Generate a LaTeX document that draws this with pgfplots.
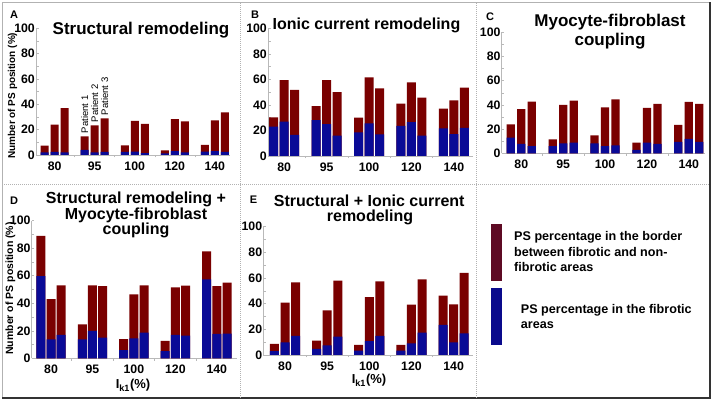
\documentclass[border=0pt]{standalone}
\usepackage{pgfplots}
\pgfplotsset{compat=1.18}
\usepackage{pgfplotstable}
\usepackage{fontspec}
\setmainfont{Liberation Sans}
\definecolor{dred}{HTML}{7A0000}
\definecolor{dblue}{HTML}{0A0A96}
\definecolor{lred}{HTML}{5E0A24}
\definecolor{lblue}{HTML}{0A0A8C}

% x t1 b1 t2 b2 t3 b3  (t = total height, b = fibrotic part)
\pgfplotstableread{
x t1 b1 t2 b2 t3 b3
0 7.4 2.0 24.0 2.4 37.0 2.0
1 14.7 4.0 23.4 2.0 29.0 2.4
2 7.6 2.4 27.0 2.6 24.5 1.5
3 3.7 1.3 28.4 3.0 26.6 2.0
4 8.0 2.6 27.4 3.0 33.7 2.4
}\dataA
\pgfplotstableread{
x t1 b1 t2 b2 t3 b3
0 30.3 23.0 59.5 27.0 51.7 16.5
1 39.0 28.0 59.5 25.0 50.0 16.0
2 30.0 18.5 61.6 25.6 53.0 17.0
3 41.0 23.5 57.7 26.6 45.7 16.0
4 37.0 21.7 43.6 17.2 53.5 22.0
}\dataB
\pgfplotstableread{
x t1 b1 t2 b2 t3 b3
0 24.0 13.0 36.6 7.7 42.7 6.0
1 11.6 6.0 40.0 8.3 43.5 8.8
2 14.9 8.3 38.0 6.0 44.6 6.6
3 8.8 2.8 37.5 8.8 40.8 7.7
4 23.4 9.4 42.4 12.0 40.8 9.4
}\dataC
\pgfplotstableread{
x t1 b1 t2 b2 t3 b3
0 88.9 59.8 43.0 13.8 53.0 17.0
1 24.7 13.8 53.0 20.0 52.5 15.0
2 14.0 6.0 46.5 14.5 53.0 18.6
3 12.6 5.3 51.6 17.0 52.8 16.5
4 77.7 57.4 52.5 17.7 55.0 18.0
}\dataD
\pgfplotstableread{
x t1 b1 t2 b2 t3 b3
0 8.6 3.1 40.8 9.9 56.6 15.0
1 11.2 4.7 34.8 7.5 58.0 14.3
2 7.8 3.4 45.2 10.9 57.4 15.0
3 7.8 3.4 39.2 9.0 59.0 17.4
4 46.2 23.4 39.5 9.9 64.0 16.9
}\dataE

\pgfplotsset{
  panel/.style={
    scale only axis, anchor=south west, clip=false,
    ymin=0, ymax=100, ytick={0,20,...,100}, minor ytick={10,30,...,90},
    xtick={0,...,4}, xticklabels={80,95,100,120,140},
    minor xtick={0.5,1.5,2.5,3.5},
    axis x line*=bottom, axis y line*=left,
    axis line style={draw=gray!55, line width=0.7pt, -},
    tick style={draw=gray!55, line width=0.5pt},
    major tick length=2.5pt, minor tick length=2.5pt,
    every major x tick/.style={draw=none},
    ybar,
    tick label style={font=\fontsize{12.3}{12.3}\selectfont\bfseries},
    yticklabel style={inner xsep=1pt},
    xticklabel style={inner ysep=2pt, yshift=-2pt},
    /pgf/number format/assume math mode=true,
  },
  pp/.style n args={2}{draw=none, fill=#1, bar shift=#2, forget plot},
}
\newcommand{\panelplots}[2]{%
  \addplot[pp={dred}{-#2}] table[x=x,y=t1]{#1};
  \addplot[pp={dblue}{-#2}] table[x=x,y=b1]{#1};
  \addplot[pp={dred}{0pt}] table[x=x,y=t2]{#1};
  \addplot[pp={dblue}{0pt}] table[x=x,y=b2]{#1};
  \addplot[pp={dred}{#2}] table[x=x,y=t3]{#1};
  \addplot[pp={dblue}{#2}] table[x=x,y=b3]{#1};
}

\begin{document}
\begin{tikzpicture}
\useasboundingbox (0pt,0pt) rectangle (713pt,402pt);
% frame and dividers
\draw[gray!60, line width=0.8pt] (2pt,4pt) rectangle (710pt,400pt);
\draw[gray!40!black, line width=1.2pt] (2pt,4pt)--(710pt,4pt)--(710pt,400pt);
\draw[gray!60, line width=0.5pt, dash pattern=on 1pt off 1pt] (240pt,4pt)--(240pt,400pt);
\draw[gray!60, line width=0.5pt, dash pattern=on 1pt off 1pt] (476pt,4pt)--(476pt,400pt);
\draw[gray!60, line width=0.5pt, dash pattern=on 1pt off 1pt] (2pt,218pt)--(710pt,218pt);

% Panel A
\begin{axis}[panel, at={(36pt,247pt)}, width=194pt, height=126.7pt,
  xmin=-0.4675, xmax=4.38, bar width=8pt]
\panelplots{\dataA}{10pt}
\node[rotate=90, anchor=west, inner sep=0pt, font=\fontsize{9.5}{9.5}\selectfont] at ([xshift=-10pt,yshift=3pt]axis cs:1,14.7) {Patient 1};
\node[rotate=90, anchor=west, inner sep=0pt, font=\fontsize{9.5}{9.5}\selectfont] at ([xshift=0pt,yshift=3pt]axis cs:1,23.4) {Patient 2};
\node[rotate=90, anchor=west, inner sep=0pt, font=\fontsize{9.5}{9.5}\selectfont] at ([xshift=10pt,yshift=3pt]axis cs:1,29.0) {Patient 3};
\end{axis}

% Panel B
\begin{axis}[panel, at={(268pt,246pt)}, width=205pt, height=127.7pt,
  xmin=-0.383, xmax=4.45, bar width=9pt]
\panelplots{\dataB}{10.5pt}
\end{axis}

% Panel C
\begin{axis}[panel, at={(501.7pt,248.7pt)}, width=203.3pt, height=121pt,
  xmin=-0.468, xmax=4.387, bar width=8.3pt]
\panelplots{\dataC}{10.5pt}
\end{axis}

% Panel D
\begin{axis}[panel, at={(31.7pt,43.7pt)}, width=205pt, height=137.6pt,
  xmin=-0.466, xmax=4.48, bar width=9pt]
\panelplots{\dataD}{10.2pt}
\end{axis}

% Panel E
\begin{axis}[panel, at={(263.3pt,47pt)}, width=209.7pt, height=128.3pt,
  xmin=-0.515, xmax=4.46, bar width=9pt]
\panelplots{\dataE}{10.6pt}
\end{axis}

% panel letters
\begin{scope}[every node/.style={anchor=base, inner sep=0pt, font=\fontsize{11}{11}\selectfont\bfseries}]
\node at (14pt,383.7pt) {A};
\node at (255pt,383.7pt) {B};
\node at (490pt,381.3pt) {C};
\node at (14pt,197.7pt) {D};
\node at (253.5pt,198pt) {E};
\end{scope}

% titles
\node[anchor=base, inner sep=0pt, font=\fontsize{17}{17}\selectfont\bfseries] at (141pt,367.7pt) {Structural remodeling};
\node[anchor=base, inner sep=0pt, font=\fontsize{16}{16}\selectfont\bfseries] at (366.5pt,372pt) {Ionic current remodeling};
\node[anchor=base, inner sep=0pt, font=\fontsize{17}{17}\selectfont\bfseries] at (610pt,375.3pt) {Myocyte-fibroblast};
\node[anchor=base, inner sep=0pt, font=\fontsize{17}{17}\selectfont\bfseries] at (610pt,356pt) {coupling};
\node[anchor=base, inner sep=0pt, font=\fontsize{16}{16}\selectfont\bfseries] at (136pt,198pt) {Structural remodeling +};
\node[anchor=base, inner sep=0pt, font=\fontsize{16}{16}\selectfont\bfseries] at (136pt,182.7pt) {Myocyte-fibroblast};
\node[anchor=base, inner sep=0pt, font=\fontsize{16}{16}\selectfont\bfseries] at (136pt,167pt) {coupling};
\node[anchor=base, inner sep=0pt, font=\fontsize{16}{16}\selectfont\bfseries] at (369.2pt,195.3pt) {Structural + Ionic current};
\node[anchor=base, inner sep=0pt, font=\fontsize{16}{16}\selectfont\bfseries] at (370pt,180.3pt) {remodeling};

% y labels
\node[rotate=90, inner sep=0pt, font=\fontsize{10}{10}\selectfont\bfseries] at (12.5pt,306.2pt) {Number of PS position (\%)};
\node[rotate=90, inner sep=0pt, font=\fontsize{10.5}{10.5}\selectfont\bfseries] at (10.3pt,113.5pt) {Number of PS position (\%)};

% x labels
\node[anchor=base, inner sep=0pt, font=\fontsize{13}{13}\selectfont\bfseries] at (133pt,13pt) {I\textsubscript{k1}(\%)};
\node[anchor=base, inner sep=0pt, font=\fontsize{13}{13}\selectfont\bfseries] at (369pt,18pt) {I\textsubscript{k1}(\%)};

% legend
\fill[lred] (491pt,121pt) rectangle (502pt,178pt);
\fill[lblue] (491pt,57pt) rectangle (502pt,114pt);
\begin{scope}[every node/.style={anchor=base west, inner sep=0pt, font=\fontsize{12.6}{12.6}\selectfont\bfseries}]
\node at (514pt,161pt) {PS percentage in the border};
\node at (514pt,145.3pt) {between fibrotic and non-};
\node at (514pt,130.3pt) {fibrotic areas};
\node at (520.7pt,88.7pt) {PS percentage in the fibrotic};
\node at (520.7pt,73.7pt) {areas};
\end{scope}
\end{tikzpicture}
\end{document}
